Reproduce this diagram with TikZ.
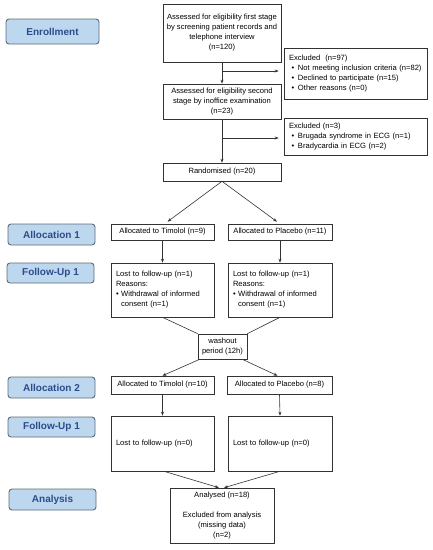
\documentclass[tikz,border=0pt]{standalone}
\usepackage{fontspec}
\setmainfont{Liberation Sans}
\usetikzlibrary{arrows.meta,calc}
\definecolor{labfill}{HTML}{BDD7EE}
\definecolor{labborder}{HTML}{5E6B78}
\definecolor{labtext}{HTML}{2B4C8C}
\definecolor{linec}{HTML}{333333}
\begin{document}
\begin{tikzpicture}[x=1pt,y=-1pt,
  box/.style={draw=linec, line width=0.6pt, fill=white, inner sep=0pt,
    font=\fontsize{7.6}{10}\selectfont, align=center},
  lbox/.style={box, align=left, inner xsep=5pt},
  lab/.style={draw=labborder, fill=labfill, rounded corners=3pt, line width=0.9pt,
    font=\fontsize{10}{11}\selectfont\bfseries, text=labtext, inner sep=0pt},
  sz/.style 2 args={minimum width=#1, minimum height=#2},
  arr/.style={draw=linec, line width=0.6pt, -{Stealth[length=4pt,width=3pt]}},
  ln/.style={draw=linec, line width=0.6pt}]
\useasboundingbox (0,0) rectangle (433,550);

% stage labels
\node[lab, sz={93pt}{25pt}] (enr) at (52.5,31.5) {Enrollment};
\node[lab, sz={87pt}{21pt}] (al1) at (51.5,234.5) {Allocation 1};
\node[lab, sz={87pt}{20pt}] (fu1) at (50.5,273) {Follow-Up 1};
\node[lab, sz={87pt}{21pt}] (al2) at (51.5,387.5) {Allocation 2};
\node[lab, sz={87pt}{20pt}] (fu2) at (51.5,427) {Follow-Up 1};
\node[lab, sz={87pt}{21pt}] (ana) at (52.5,499.5) {Analysis};

% enrollment
\node[box, sz={118pt}{58pt}] (b1) at (222,33)
  {Assessed for eligibility first stage\\by screening patient records and\\telephone interview\\(n=120)};
\node[lbox, sz={143pt}{51pt}, text width=133pt] (ex1) at (355.5,73.5)
  {Excluded\ \ (n=97)\\
   \ \textbullet\enspace Not meeting inclusion criteria (n=82)\\
   \ \textbullet\enspace Declined to participate (n=15)\\
   \ \textbullet\enspace Other reasons (n=0)};
\node[box, sz={118pt}{35pt}] (b2) at (222,101.5)
  {Assessed for eligibility second\\stage by inoffice examination\\(n=23)};
\node[lbox, sz={143pt}{37pt}, text width=133pt] (ex2) at (355.5,136.5)
  {Excluded (n=3)\\
   \ \textbullet\enspace Brugada syndrome in ECG (n=1)\\
   \ \textbullet\enspace Bradycardia in ECG (n=2)};
\node[box, sz={118pt}{18pt}] (rand) at (222,172) {Randomised (n=20)};

% allocation 1
\node[box, sz={103pt}{16pt}] (t1) at (162.5,232) {Allocated to Timolol (n=9)};
\node[box, sz={104pt}{16pt}] (p1) at (280,232) {Allocated to Placebo (n=11)};

% follow-up 1
\node[lbox, sz={103pt}{54pt}, text width=93pt] (f1l) at (162.5,290)
  {Lost to follow-up (n=1)\\Reasons:\\\textbullet\ Withdrawal of informed\\\phantom{\textbullet\ }consent (n=1)};
\node[lbox, sz={104pt}{54pt}, text width=94pt] (f1r) at (280,290)
  {Lost to follow-up (n=1)\\Reasons:\\\textbullet\ Withdrawal of informed\\\phantom{\textbullet\ }consent (n=1)};
\node[box, sz={49pt}{25pt}] (wash) at (222.5,346.5) {washout\\period (12h)};

% allocation 2
\node[box, sz={103pt}{18pt}] (t2) at (162.5,385) {Allocated to Timolol (n=10)};
\node[box, sz={105pt}{18pt}] (p2) at (279.5,385) {Allocated to Placebo (n=8)};

% follow-up 2
\node[lbox, sz={103pt}{55pt}, text width=93pt] (f2l) at (162.5,443.5) {Lost to follow-up (n=0)};
\node[lbox, sz={104pt}{55pt}, text width=94pt] (f2r) at (280,443.5) {Lost to follow-up (n=0)};

% analysis
\node[box, sz={104pt}{55pt}] (an) at (222,515.5)
  {Analysed (n=18)\\[10pt]Excluded from analysis\\(missing data)\\(n=2)};

% connectors
\coordinate (j1) at (222,71);
\coordinate (j2) at (222,138);
\draw[arr] (b1.south) -- (b2.north);
\draw[arr, shorten >=5pt] (j1) -- (j1 -| ex1.west);
\draw[arr] (b2.south) -- (rand.north);
\draw[arr, shorten >=5pt] (j2) -- (j2 -| ex2.west);
\draw[arr] (rand.south) -- ([xshift=5pt,yshift=2pt]t1.north);
\draw[arr] (rand.south) -- ([xshift=-3pt,yshift=2pt]p1.north);
\draw[arr] (t1.south) -- (f1l.north);
\draw[arr] (p1.south) -- (f1r.north);
\draw[ln] (f1l.south) -- (wash.north west);
\draw[ln] (f1r.south) -- (wash.north east);
\draw[arr] ([xshift=2pt]wash.south west) -- (t2.north);
\draw[arr] ([xshift=-5pt]wash.south east) -- ([xshift=-2pt]p2.north);
\draw[arr] (t2.south) -- (f2l.north);
\draw[arr] (p2.south) -- (f2r.north);
\draw[arr] ([xshift=1.5pt]f2l.south) -- ([xshift=-3pt]an.north);
\draw[arr] (f2r.south) -- ([xshift=2pt]an.north);
\end{tikzpicture}
\end{document}
